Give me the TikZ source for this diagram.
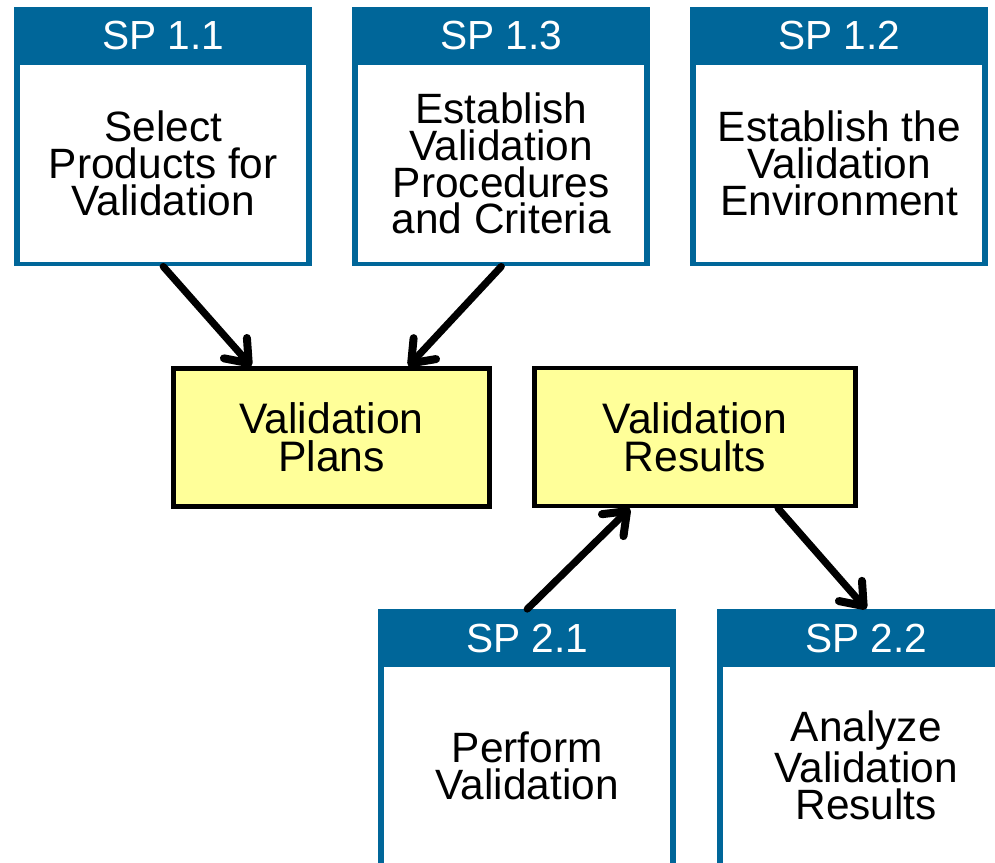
\documentclass[tikz,border=0pt]{standalone}
\usepackage{fontspec}
\setmainfont{Liberation Sans}
\usetikzlibrary{arrows.meta,calc}
\definecolor{spblue}{RGB}{0,102,153}
\definecolor{outyellow}{RGB}{255,255,153}
\tikzset{
  spouter/.style={fill=spblue, draw=none, minimum width=223.5pt, minimum height=194.25pt, inner sep=0pt, anchor=north west},
  sphead/.style={text=white, font=\fontsize{30.5pt}{28pt}\selectfont, inner sep=0pt},
  spbody/.style={fill=white, draw=none, minimum width=214.5pt, minimum height=147.75pt, inner sep=0pt, align=center, font=\fontsize{31.8pt}{27.6pt}\selectfont},
  outbox/.style={fill=outyellow, draw=black, line width=3.5pt, inner sep=0pt, minimum height=103.5pt, align=center, font=\fontsize{32pt}{28.5pt}\selectfont},
  flowline/.style={draw=black, line width=5.4pt, line cap=round, -{Straight Barb[length=15pt,width=23pt,line width=6pt,line cap=round,line join=round]}}
}
\newcommand\spbox[5]{%
  \node[spouter] (#1) at (#2,#3) {};
  \node[sphead] (#1h) at ($(#1.north)+(0,29)$) {#4};
  \node[spbody] (#1b) at ($(#1.north)+(0,156.5)$) {#5};
}
\begin{document}
\begin{tikzpicture}[x=0.75pt,y=-0.75pt]
\useasboundingbox (0,0) rectangle (995,863);
\spbox{sp11}{14}{7}{SP 1.1}{Select\\Products for\\Validation}
\spbox{sp13}{352}{7}{SP 1.3}{Establish\\Validation\\Procedures\\and Criteria}
\spbox{sp12}{690}{7}{SP 1.2}{Establish the\\Validation\\Environment}
\spbox{sp21}{378}{609}{SP 2.1}{Perform\\Validation}
\spbox{sp22}{717}{609}{SP 2.2}{Analyze\\Validation\\Results}
\node[outbox, minimum width=237pt] (plans) at (331.5,437.5) {Validation\\Plans};
\node[outbox, minimum width=240.75pt] (results) at (695,437) {Validation\\Results};
\path[flowline] (sp11.south) -- ($(plans.north west)!0.25!(plans.north east)$);
\path[flowline] (sp13.south) -- ($(plans.north west)!0.74!(plans.north east)$);
\path[flowline] (sp21.north) -- ($(results.south west)!0.3!(results.south east)$);
\path[flowline] ($(results.south west)!0.755!(results.south east)$) -- (sp22.north);
\end{tikzpicture}
\end{document}
